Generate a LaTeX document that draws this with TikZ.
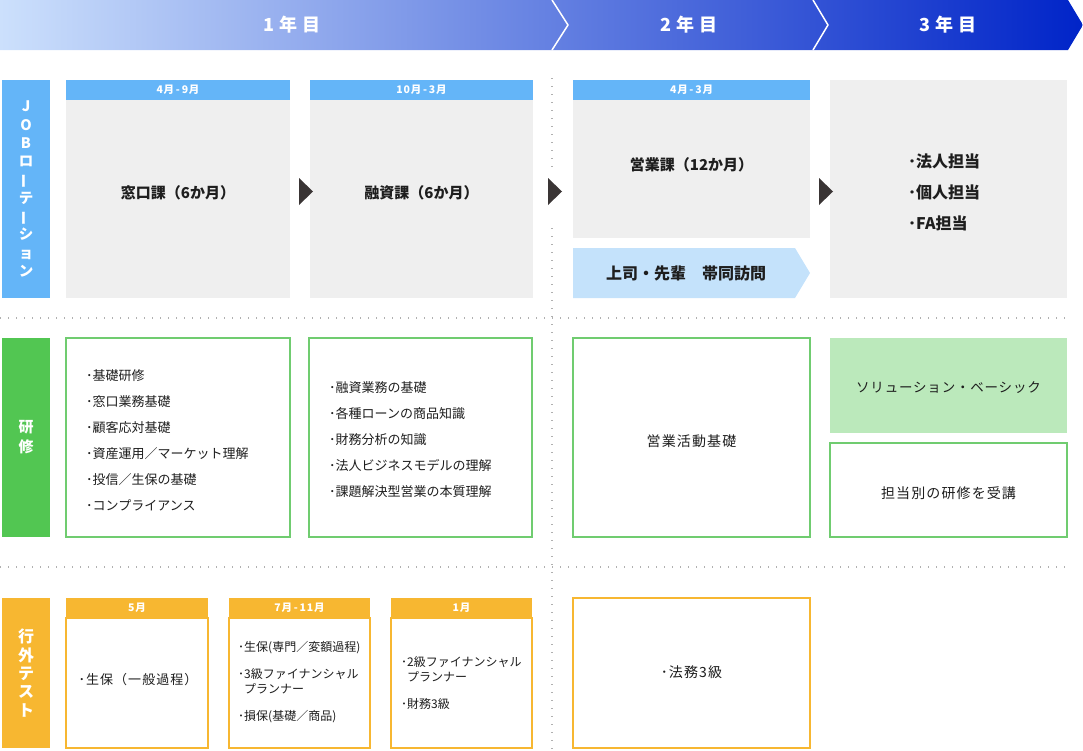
\documentclass[tikz,border=0pt]{standalone}
\usepackage{fontspec}
\usepackage{graphicx}
\setmainfont{Noto Sans CJK JP}
\usetikzlibrary{calc}
\definecolor{hdrblue}{RGB}{100,181,248}
\definecolor{boxgray}{RGB}{239,239,239}
\definecolor{chev}{RGB}{196,226,251}
\definecolor{lblgreen}{RGB}{82,198,82}
\definecolor{grnborder}{RGB}{112,204,112}
\definecolor{grnfill}{RGB}{187,233,187}
\definecolor{ylw}{RGB}{247,183,49}
\definecolor{tricol}{RGB}{58,53,53}
\definecolor{dotc}{RGB}{176,176,176}
\definecolor{bnl}{RGB}{204,224,252}
\definecolor{bnm}{RGB}{84,116,226}
\definecolor{bnr}{RGB}{0,36,200}
\definecolor{txt}{RGB}{30,30,30}
\newcommand{\vbar}{\rotatebox[origin=c]{90}{ー}}
\newcommand{\ls}[1]{\addfontfeatures{LetterSpace=#1}}
\begin{document}
\begin{tikzpicture}[x=1pt,y=-1pt,
  lbl/.style={inner sep=0, minimum width=48, text=white, align=center},
  hdr/.style={fill=hdrblue, inner sep=0, minimum height=20, text=white, font=\fontsize{10.5}{12}\bfseries\ls{8}},
  yhdr/.style={hdr, fill=ylw},
  gbox/.style={fill=boxgray, inner sep=0},
  gframe/.style={draw=grnborder, line width=1.1pt, fill=white, inner sep=0},
  yframe/.style={draw=ylw, line width=1.1pt, fill=white, inner sep=0},
  bigtxt/.style={text=txt, inner sep=0, font=\fontsize{15}{18}\bfseries},
  listtxt/.style={text=txt, inner sep=0, anchor=west, align=left},
  dotline/.style={draw=dotc, line width=1.3pt, dash pattern=on 1.3pt off 6.7pt},
  yeartxt/.style={text=white, inner sep=0, font=\fontsize{18}{20}\bfseries},
  tri/.style={fill=tricol}
]
\useasboundingbox (0,0) rectangle (1083,750);

% ---------- banner ----------
\shade[left color=bnl, middle color=bnm, right color=bnr]
  (0,0) -- (1068,0) -- (1083,25) -- (1068,50) -- (0,50) -- cycle;
\draw[white, line width=1.5pt] (552,0) -- (568,25) -- (552,50);
\draw[white, line width=1.5pt] (813,0) -- (828,25) -- (813,50);
\node[yeartxt] (y1) at (292,25) {1\hspace{5pt}年\hspace{5pt}目};
\node[yeartxt] (y2) at (689,25) {2\hspace{5pt}年\hspace{5pt}目};
\node[yeartxt] (y3) at (948,25) {3\hspace{5pt}年\hspace{5pt}目};

% ---------- dotted separators ----------
\draw[dotline] (0,318) -- (1068,318);
\draw[dotline] (0,567) -- (1068,567);
\draw[dotline] (552,78) -- (552,172);
\draw[dotline] (552,228) -- (552,750);

% ---------- row 1: JOB rotation ----------
\node[lbl, fill=hdrblue, minimum height=218, font=\fontsize{14.5}{18.3}\bfseries] (jobl) at (26,189)
  {J\\O\\B\\ロ\\\vbar\\テ\\\vbar\\シ\\ョ\\ン};

\node[hdr, minimum width=224] (h1) at (178,90) {4月\,-\,9月};
\node[gbox, minimum width=224, minimum height=198] (b1) at (178,199) {};
\node[bigtxt] (t1) at (178,193) {窓口課（6か月）};

\node[hdr, minimum width=223] (h2) at (421.5,90) {10月\,-\,3月};
\node[gbox, minimum width=223, minimum height=198] (b2) at (421.5,199) {};
\node[bigtxt] (t2) at (421.5,193) {融資課（6か月）};

\node[hdr, minimum width=237] (h3) at (691.5,90) {4月\,-\,3月};
\node[gbox, minimum width=237, minimum height=138] (b3) at (691.5,169) {};
\node[bigtxt] (t3) at (691.5,165) {営業課（12か月）};

\fill[chev] (573,248) -- (795,248) -- (810,273) -- (795,298) -- (573,298) -- cycle;
\node[bigtxt, font=\fontsize{16}{18}\bfseries] (t3b) at (686,273) {上司・先輩　帯同訪問};

\node[gbox, minimum width=237, minimum height=218] (b4) at (948.5,189) {};
\node[listtxt, font=\fontsize{16}{31}\bfseries] (t4) at (908,192) {･法人担当\\･個人担当\\･FA担当};

\fill[tri] (299,178) -- (313,191.5) -- (299,205) -- cycle;
\fill[tri] (548,178) -- (562,191.5) -- (548,205) -- cycle;
\fill[tri] (819,178) -- (833,191.5) -- (819,205) -- cycle;

% ---------- row 2: training ----------
\node[lbl, fill=lblgreen, minimum height=199, font=\fontsize{15}{20}\bfseries] (kenl) at (26,437.5) {研\\修};

\node[gframe, minimum width=224, minimum height=199] (k1) at (178,437.5) {};
\node[listtxt, font=\fontsize{13}{26}\selectfont] (k1t) at (86,440)
  {･基礎研修\\･窓口業務基礎\\･顧客応対基礎\\･資産運用／マーケット理解\\･投信／生保の基礎\\･コンプライアンス};

\node[gframe, minimum width=223, minimum height=199] (k2) at (420.5,437.5) {};
\node[listtxt, font=\fontsize{13}{26}\selectfont] (k2t) at (329,440)
  {･融資業務の基礎\\･各種ローンの商品知識\\･財務分析の知識\\･法人ビジネスモデルの理解\\･課題解決型営業の本質理解};

\node[gframe, minimum width=237, minimum height=199] (k3) at (691.5,437.5) {};
\node[text=txt, inner sep=0, font=\fontsize{14}{16}\selectfont\ls{8}] (k3t) at (691.5,441) {営業活動基礎};

\node[fill=grnfill, inner sep=0, minimum width=237, minimum height=95] (k4) at (948.5,385.5) {};
\node[text=txt, inner sep=0, font=\fontsize{13.5}{16}\selectfont\ls{6}] (k4t) at (948.5,388) {ソリューション・ベーシック};
\node[gframe, minimum width=237, minimum height=94] (k5) at (948.5,490) {};
\node[text=txt, inner sep=0, font=\fontsize{14}{16}\selectfont\ls{8}] (k5t) at (948.5,493) {担当別の研修を受講};

% ---------- row 3: external tests ----------
\node[lbl, fill=ylw, minimum height=150, font=\fontsize{16}{18.3}\bfseries] (gail) at (26,673) {行\\外\\テ\\ス\\ト};

\node[yhdr, minimum width=142] (g1h) at (137,608) {5月};
\node[yframe, minimum width=142, minimum height=130] (g1) at (137,683) {};
\node[text=txt, inner sep=0, font=\fontsize{13}{16}\selectfont\ls{8}] (g1t) at (138,680) {･生保（一般過程）};

\node[yhdr, minimum width=141] (g2h) at (299.5,608) {7月\,-\,11月};
\node[yframe, minimum width=141, minimum height=130] (g2) at (299.5,683) {};
\node[listtxt, font=\fontsize{12}{15}\selectfont] (g2t) at (238,682.5)
  {･生保(専門／変額過程)\\[12pt]･3級ファイナンシャル\\\phantom{･}プランナー\\[12pt]･損保(基礎／商品)};

\node[yhdr, minimum width=141] (g3h) at (461.5,608) {1月};
\node[yframe, minimum width=141, minimum height=130] (g3) at (461.5,683) {};
\node[listtxt, font=\fontsize{12}{15}\selectfont] (g3t) at (401,683)
  {･2級ファイナンシャル\\\phantom{･}プランナー\\[12pt]･財務3級};

\node[yframe, minimum width=237, minimum height=150] (g4) at (691.5,673) {};
\node[text=txt, inner sep=0, font=\fontsize{14}{16}\selectfont\ls{8}] (g4t) at (691.5,672) {･法務3級};
\end{tikzpicture}
\end{document}
